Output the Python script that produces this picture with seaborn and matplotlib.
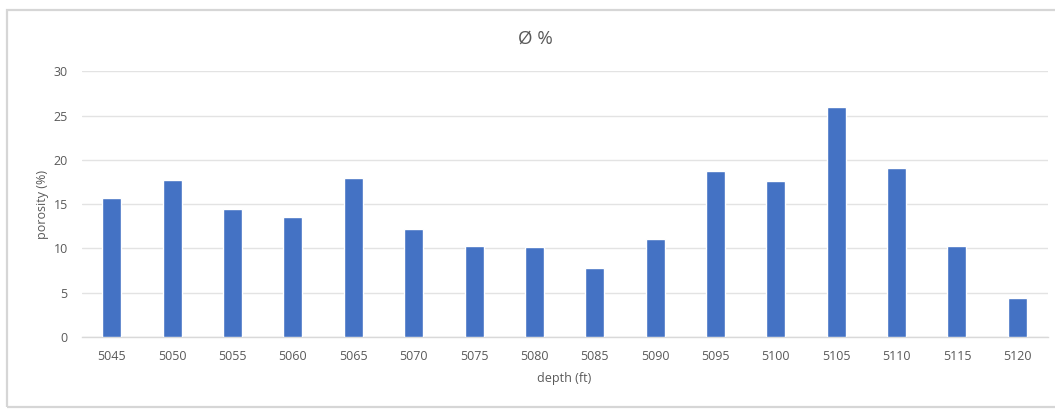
import matplotlib
matplotlib.use("Agg")
import matplotlib.pyplot as plt
from matplotlib.patches import Rectangle
import seaborn as sns
import pandas as pd

# Porosity readings by depth
depth_ft = ["5045", "5050", "5055", "5060", "5065", "5070", "5075", "5080",
            "5085", "5090", "5095", "5100", "5105", "5110", "5115", "5120"]
porosity_pct = [15.7, 17.7, 14.5, 13.5, 18.0, 12.2, 10.3, 10.2,
                7.8, 11.1, 18.7, 17.6, 26.0, 19.1, 10.3, 4.4]
y_ticks = [0, 5, 10, 15, 20, 25, 30]

df = pd.DataFrame({"depth": depth_ft, "porosity": porosity_pct})

sns.set_theme(style="white")
plt.rcParams["font.family"] = ["Open Sans", "DejaVu Sans"]

W, H = 1055, 409
fig = plt.figure(figsize=(W / 100, H / 100), dpi=100)
fig.patch.set_facecolor("white")

# chart frame
fig.patches.append(Rectangle((7 / W, 1 - 407 / H), (W + 10 - 7) / W, (407 - 10) / H,
                             transform=fig.transFigure, fill=False,
                             edgecolor="#d6d6d6", linewidth=1.6, zorder=0))

left, right = 81.7 / W, 1047.5 / W
bottom, top = 1 - 337 / H, 1 - 71.3 / H
ax = fig.add_axes([left, bottom, right - left, top - bottom])

sns.barplot(data=df, x="depth", y="porosity", color="#4472C4", width=0.315,
            saturation=1, ax=ax, zorder=3)

ax.set_ylim(0, 30)
ax.set_yticks(y_ticks)
ax.set_xlim(-0.5, len(depth_ft) - 0.5)
ax.yaxis.grid(True, color="#e3e3e3", linewidth=1.0, zorder=0)
ax.xaxis.grid(False)
for side in ["top", "right", "left"]:
    ax.spines[side].set_visible(False)
ax.spines["bottom"].set_color("#d9d9d9")
ax.spines["bottom"].set_linewidth(1.0)
ax.tick_params(axis="both", length=0, labelsize=9, colors="#595959")
ax.tick_params(axis="x", pad=9)
ax.tick_params(axis="y", pad=10)

ax.set_xlabel("depth (ft)", fontsize=9, color="#595959", labelpad=7)
ax.set_ylabel("porosity (%)", fontsize=9, color="#595959", labelpad=3)

fig.text(535 / W, 1 - 39 / H, "Ø %", ha="center", va="center",
         fontsize=13.5, color="#595959")

fig.savefig("out.png", dpi=100, facecolor="white")
